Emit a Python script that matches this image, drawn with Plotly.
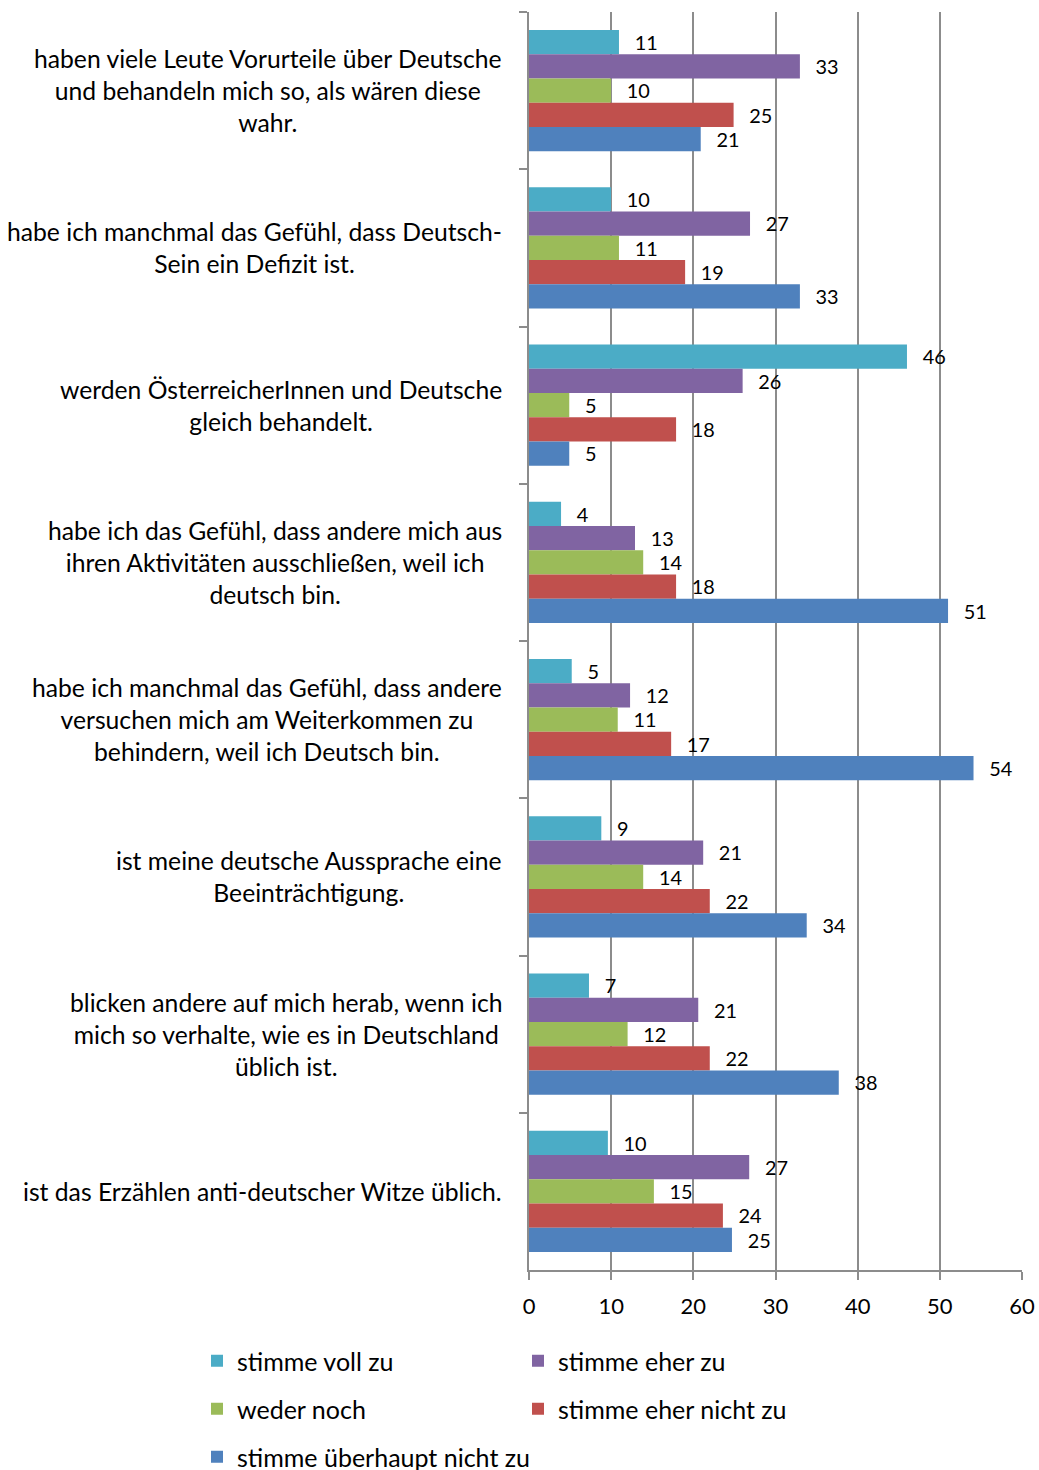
import plotly.graph_objects as go

categories = [
    "haben viele Leute Vorurteile über Deutsche<br>und behandeln mich so, als wären diese<br>wahr.",
    "habe ich manchmal das Gefühl, dass Deutsch-<br>Sein ein Defizit ist.",
    "werden ÖsterreicherInnen und Deutsche<br>gleich behandelt.",
    "habe ich das Gefühl, dass andere mich aus<br>ihren Aktivitäten ausschließen, weil ich<br>deutsch bin.",
    "habe ich manchmal das Gefühl, dass andere<br>versuchen mich am Weiterkommen zu<br>behindern, weil ich Deutsch bin.",
    "ist meine deutsche Aussprache eine<br>Beeinträchtigung.",
    "blicken andere auf mich herab, wenn ich<br>mich so verhalte, wie es in Deutschland<br>üblich ist.",
    "ist das Erzählen anti-deutscher Witze üblich.",
]

series_names = ["stimme voll zu", "stimme eher zu", "weder noch",
                "stimme eher nicht zu", "stimme überhaupt nicht zu"]

voll_zu = [10.95, 9.98, 46.0, 3.9, 5.2, 8.8, 7.3, 9.6]
eher_zu = [32.97, 26.9, 26.0, 12.9, 12.3, 21.2, 20.6, 26.8]
weder_noch = [9.98, 10.95, 4.9, 13.9, 10.8, 13.9, 12.0, 15.2]
eher_nicht_zu = [24.9, 19.0, 17.9, 17.9, 17.3, 22.0, 22.0, 23.6]
ueberhaupt_nicht_zu = [20.9, 32.97, 4.9, 51.0, 54.1, 33.8, 37.7, 24.7]

x_ticks = [0, 10, 20, 30, 40, 50, 60]

colors = ["#4BACC6", "#8064A2", "#9BBB59", "#C0504D", "#4F81BD"]
legend_ids = ["legend", "legend", "legend2", "legend2", "legend3"]

FONT = "Lato"
PLOT_L, PLOT_R, PLOT_T, PLOT_B = 529, 1022, 12, 1270
W, H = 1039, 1470

fig = go.Figure()
all_series = [voll_zu, eher_zu, weder_noch, eher_nicht_zu, ueberhaupt_nicht_zu]
for name, vals, col, lg in zip(series_names, all_series, colors, legend_ids):
    fig.add_trace(go.Bar(
        y=categories, x=vals, name=name, orientation="h",
        marker=dict(color=col, line=dict(width=0)),
        texttemplate="\u00a0\u00a0\u2009%{x:.0f}", textposition="outside",
        textfont=dict(family=FONT, size=23, color="#000000"),
        cliponaxis=False, legend=lg,
    ))

# category labels as centered multi-line annotations
for c in categories:
    fig.add_annotation(
        x=0, xref="paper", y=c, yref="y", text=c, showarrow=False,
        xanchor="right", yanchor="middle", align="center", xshift=-25,
        font=dict(family=FONT, size=24.7, color="#000000"),
    )

plot_w = PLOT_R - PLOT_L
plot_h = PLOT_B - PLOT_T
legend_common = dict(orientation="h", xref="paper", yref="paper", xanchor="left",
                     yanchor="middle", entrywidthmode="pixels",
                     font=dict(family=FONT, size=25, color="#000000"),
                     itemwidth=30, bgcolor="rgba(0,0,0,0)", traceorder="normal")
x_leg = (197 - PLOT_L) / plot_w

fig.update_layout(
    width=W, height=H,
    margin=dict(l=PLOT_L, r=W - PLOT_R, t=PLOT_T, b=H - PLOT_B, autoexpand=False),
    paper_bgcolor="white", plot_bgcolor="white",
    barmode="group", bargap=0.23, bargroupgap=0,
    showlegend=True,
    legend=dict(x=x_leg, y=(PLOT_B - 1361) / plot_h, entrywidth=276, **legend_common),
    legend2=dict(x=x_leg, y=(PLOT_B - 1409) / plot_h, entrywidth=276, **legend_common),
    legend3=dict(x=x_leg, y=(PLOT_B - 1457) / plot_h, entrywidth=420, **legend_common),
    font=dict(family=FONT, size=22, color="#000000"),
)

fig.update_xaxes(
    range=[0, 60], tickvals=x_ticks, ticktext=[str(v) for v in x_ticks],
    showgrid=True, gridcolor="#8C8C8C", gridwidth=1.5,
    showline=True, linecolor="#8C8C8C", linewidth=1.5,
    ticks="outside", ticklen=8, tickcolor="#8C8C8C", tickwidth=1.5,
    ticklabelstandoff=8, automargin=False,
    tickfont=dict(family=FONT, size=22, color="#000000"),
    zeroline=False, fixedrange=True,
)
fig.update_yaxes(
    autorange="reversed", type="category", tickson="boundaries",
    showticklabels=False, showgrid=False, automargin=False,
    showline=True, linecolor="#8C8C8C", linewidth=1.5,
    ticks="outside", ticklen=8, tickcolor="#8C8C8C", tickwidth=1.5,
)

# remove the default page margin so the figure sits at the window's top-left
page_js = ("document.body.style.margin='0';"
           "document.documentElement.style.overflow='hidden';")
fig.write_html("out.html", post_script=page_js,
               config=dict(displayModeBar=False))
